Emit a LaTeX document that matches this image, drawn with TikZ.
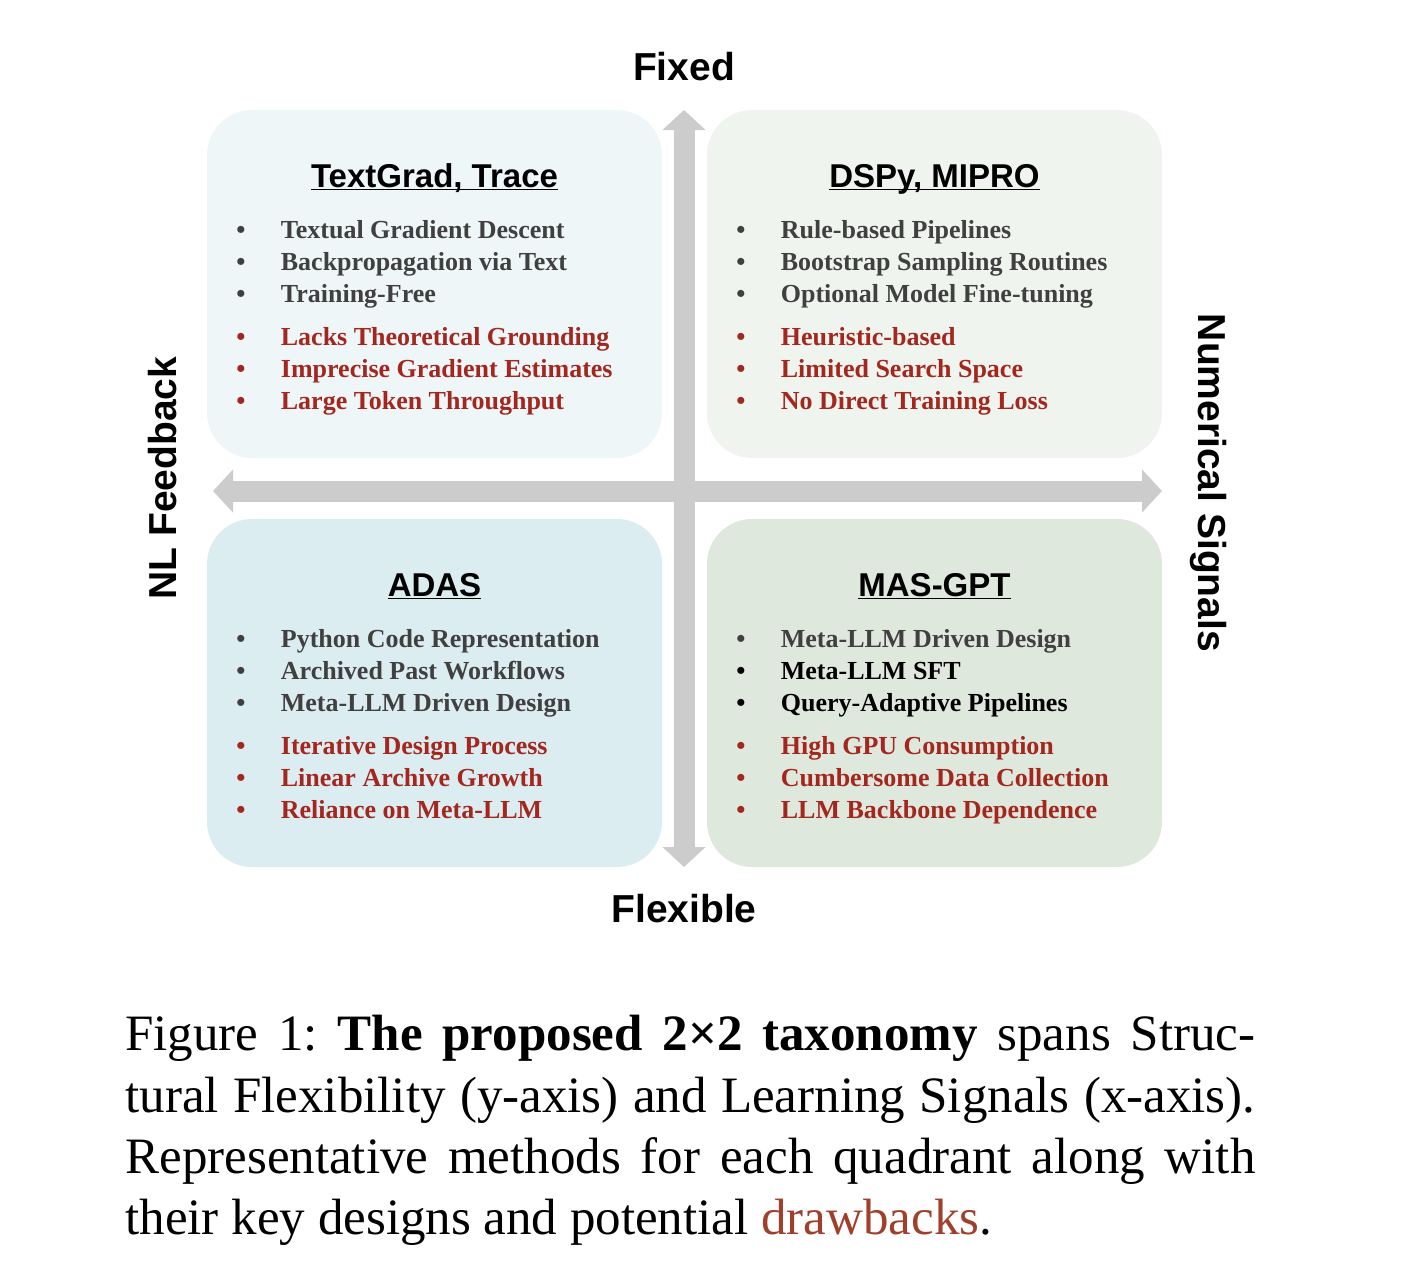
\documentclass[tikz,border=0pt]{standalone}
\usepackage{fontspec}
\setmainfont{Liberation Serif}
\setsansfont{Liberation Sans}
\usepackage{tikz}
\usetikzlibrary{arrows.meta}
\usetikzlibrary{positioning}
\definecolor{tlfill}{HTML}{EEF6F8}
\definecolor{trfill}{HTML}{EFF4EE}
\definecolor{blfill}{HTML}{DCEDF1}
\definecolor{brfill}{HTML}{DFE8DC}
\definecolor{designgray}{HTML}{404040}
\definecolor{drawbackred}{HTML}{A3271F}
\definecolor{axisgray}{HTML}{CCCCCC}
\definecolor{captionred}{HTML}{A0402C}
\newcommand{\qbullet}{\makebox[22.25pt][l]{\textbullet}}
\tikzstyle{quad}=[
        rectangle,
        rounded corners=22.5pt,
        minimum width=227.5pt,
        minimum height=174pt,
        inner sep=0pt
]
\tikzstyle{method}=[font=\sffamily\bfseries\fontsize{16.5}{20}\selectfont,anchor=base,inner sep=0pt]
\tikzstyle{design}=[font=\bfseries\fontsize{13}{16}\selectfont,text=designgray,align=left,anchor=north west,inner sep=0pt]
\tikzstyle{drawback}=[design,text=drawbackred]
\tikzstyle{axislabel}=[font=\sffamily\bfseries\fontsize{19.5}{23}\selectfont,inner sep=0pt]
\tikzstyle{axis}=[line width=10.5pt,draw=axisgray,>={Triangle[width=21pt,length=10pt]},<->]

\begin{document}
\begin{tikzpicture}[x=0.5pt,y=-0.5pt]
\useasboundingbox (0,0) rectangle (1408,1275);
\node[quad,fill=tlfill] (tl) at (434.5,284) {};
\node[quad,fill=trfill] (tr) at (934.5,284) {};
\node[quad,fill=blfill] (bl) at (434.5,693) {};
\node[quad,fill=brfill] (br) at (934.5,693) {};
\node[method] (tlt) at (434.5,187) {\underline{\smash{TextGrad, Trace}}};
\node[method] (trt) at (934.5,187) {\underline{\smash{DSPy, MIPRO}}};
\node[method] (blt) at (434.5,596) {\underline{\smash{ADAS}}};
\node[method] (brt) at (934.5,596) {\underline{\smash{MAS-GPT}}};
\node[design] (tld) at (236,220) {\qbullet Textual Gradient Descent\\ \qbullet Backpropagation via Text\\ \qbullet Training-Free};
\node[drawback] (tlw) at (236,327) {\qbullet Lacks Theoretical Grounding\\ \qbullet Imprecise Gradient Estimates\\ \qbullet Large Token Throughput};
\node[design] (trd) at (736,220) {\qbullet Rule-based Pipelines\\ \qbullet Bootstrap Sampling Routines\\ \qbullet Optional Model Fine-tuning};
\node[drawback] (trw) at (736,327) {\qbullet Heuristic-based\\ \qbullet Limited Search Space\\ \qbullet No Direct Training Loss};
\node[design] (bld) at (236,629) {\qbullet Python Code Representation\\ \qbullet Archived Past Workflows\\ \qbullet Meta-LLM Driven Design};
\node[drawback] (blw) at (236,736) {\qbullet Iterative Design Process\\ \qbullet Linear Archive Growth\\ \qbullet Reliance on Meta-LLM};
\node[design] (brd) at (736,629) {\qbullet Meta-LLM Driven Design\\ \color{black}\qbullet Meta-LLM SFT\\ \color{black}\qbullet Query-Adaptive Pipelines};
\node[drawback] (brw) at (736,736) {\qbullet High GPU Consumption\\ \qbullet Cumbersome Data Collection\\ \qbullet LLM Backbone Dependence};
\node[axislabel] (fixed) at (684,67) {Fixed};
\node[axislabel] (flex) at (684,909) {Flexible};
\node[axislabel,rotate=90] (nl) at (163,478) {NL Feedback};
\node[axislabel,rotate=-90] (num) at (1208,483) {Numerical Signals};
\node[anchor=north west,inner sep=0pt,text width=565pt,align=justify,font=\fontsize{25.5}{30.6}\selectfont] (cap) at (125,1015)
  {Figure 1:\ \textbf{The proposed 2×2 taxonomy} spans Struc-\linebreak tural Flexibility (y-axis) and Learning Signals (x-axis).\linebreak Representative methods for each quadrant along with\linebreak their key designs and potential \textcolor{captionred}{drawbacks}.};
%Drawing Axes
\coordinate (top) at (684,110);
\coordinate (bottom) at (684,867);
\coordinate (left) at (213,491);
\coordinate (right) at (1162,491);
\draw[axis] (bottom) -- (top);
\draw[axis] (left) -- (right);
\end{tikzpicture}
\end{document}
